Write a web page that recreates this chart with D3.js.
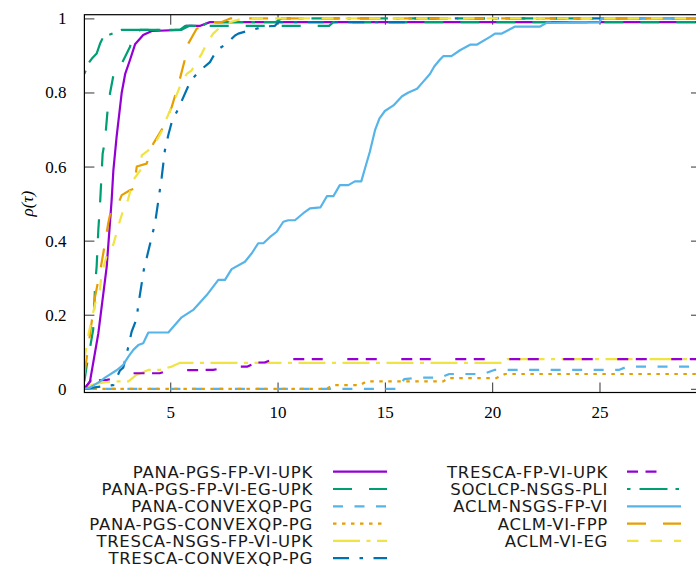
<!DOCTYPE html>
<html>
<head>
<meta charset="utf-8">
<script src="https://cdn.jsdelivr.net/npm/d3@7"></script>
<style>
  html, body { margin: 0; padding: 0; background: #fff; }
  svg { display: block; }
</style>
</head>
<body>
<svg id="chart" width="696" height="569"></svg>
<script>
// ---------------- DATA (tau, rho) ----------------
const seriesNames = [
  "PANA-PGS-FP-VI-UPK", "PANA-PGS-FP-VI-EG-UPK", "PANA-CONVEXQP-PG",
  "PANA-PGS-CONVEXQP-PG", "TRESCA-NSGS-FP-VI-UPK", "TRESCA-CONVEXQP-PG",
  "TRESCA-FP-VI-UPK", "SOCLCP-NSGS-PLI", "ACLM-NSGS-FP-VI",
  "ACLM-VI-FPP", "ACLM-VI-EG"
];
const xTicks = [5, 10, 15, 20, 25];
const yTicks = [0, 0.2, 0.4, 0.6, 0.8, 1];
const tauMax = 29.73;

const panaPgsFpViUpk = [[1,0],[1.26,0.02],[1.65,0.15],[2.04,0.33],[2.27,0.51],[2.35,0.59],[2.5,0.68],[2.74,0.8],[2.9,0.85],[3.12,0.887],[3.36,0.93],[3.74,0.955],[4.14,0.966],[5.5,0.969],[5.75,0.98],[6.4,0.98],[6.85,0.99],[29.73,0.99]];
const panaPgsFpViEgUpk = [[1,0.02],[1.1,0.06],[1.26,0.11],[1.41,0.16],[1.5,0.28],[1.57,0.33],[1.65,0.43],[1.73,0.5],[1.85,0.635],[1.96,0.67],[2.07,0.745],[2.2,0.8],[2.35,0.846],[2.74,0.878],[3.12,0.923],[3.3,0.955],[3.6,0.969],[5.5,0.969],[5.9,0.98],[12.4,0.98],[12.6,0.99],[29.73,0.99]];
const panaConvexqpPg = [[1,0],[15.6,0],[15.9,0.026],[16.5,0.03],[17.6,0.03],[18.0,0.04],[19.6,0.04],[20.1,0.051],[25.9,0.051],[26.3,0.06],[29.73,0.06]];
const panaPgsConvexqpPg = [[1,0],[12.3,0],[12.55,0.01],[13.85,0.01],[14.15,0.02],[17.72,0.02],[17.96,0.029],[20.2,0.029],[20.6,0.04],[29.73,0.04]];
const trescaNsgsFpViUpk = [[1,0],[1.2,0.008],[1.5,0.013],[2.0,0.018],[2.58,0.02],[3.05,0.02],[3.44,0.038],[3.98,0.051],[4.52,0.051],[5.07,0.06],[5.46,0.07],[20.4,0.07],[20.7,0.08],[29.73,0.08]];
const trescaConvexqpPg = [[1,0],[1.4,0.003],[2.0,0.008],[2.35,0.01],[2.66,0.05],[2.81,0.057],[3.05,0.114],[3.2,0.154],[3.44,0.19],[3.5,0.222],[3.82,0.34],[3.9,0.353],[4.14,0.41],[4.3,0.45],[4.5,0.53],[4.6,0.57],[4.75,0.644],[4.91,0.685],[5.07,0.72],[5.38,0.757],[5.92,0.828],[6.3,0.855],[6.77,0.878],[6.85,0.882],[7.16,0.914],[7.63,0.932],[8.02,0.954],[8.17,0.959],[8.72,0.968],[9.42,0.978],[9.88,0.98],[10.04,0.99],[16,0.99],[16.3,1],[29.73,1]];
const trescaFpViUpk = [[1,0],[1.3,0.022],[2.04,0.024],[2.5,0.03],[3.2,0.042],[4.5,0.042],[5.0,0.05],[7.0,0.051],[7.8,0.06],[8.6,0.06],[9.0,0.071],[9.4,0.071],[9.8,0.08],[29.73,0.08]];
const soclcpNsgsPli = [[1,0.85],[1.18,0.878],[1.34,0.891],[1.57,0.905],[1.73,0.932],[1.88,0.95],[2.35,0.96],[2.74,0.969],[5.45,0.969],[5.7,0.98],[6.5,0.98],[6.77,0.99],[9.9,0.99],[10.2,1],[29.73,1]];
const aclmNsgsFpVi = [[1,0],[1.26,0.003],[1.73,0.02],[1.96,0.03],[2.5,0.05],[2.81,0.065],[3.05,0.087],[3.28,0.105],[3.51,0.118],[3.74,0.123],[3.98,0.152],[4.91,0.152],[5.53,0.193],[6.07,0.213],[6.7,0.253],[7.24,0.294],[7.55,0.294],[7.86,0.323],[8.48,0.343],[8.8,0.366],[9.1,0.393],[9.34,0.393],[9.65,0.41],[9.96,0.424],[10.27,0.451],[10.5,0.455],[10.81,0.455],[11.2,0.474],[11.51,0.487],[12.0,0.49],[12.3,0.52],[12.6,0.52],[12.9,0.55],[13.3,0.55],[13.6,0.56],[13.9,0.56],[14.1,0.6],[14.3,0.64],[14.55,0.7],[14.75,0.73],[15.0,0.75],[15.4,0.765],[15.8,0.79],[16.1,0.8],[16.5,0.81],[16.8,0.83],[17.1,0.85],[17.3,0.87],[17.57,0.889],[17.72,0.898],[18.1,0.898],[18.5,0.914],[18.97,0.929],[19.28,0.929],[19.9,0.95],[20.13,0.959],[20.45,0.959],[21.07,0.978],[22.23,0.978],[22.54,0.988],[25.0,0.99],[25.1,1],[29.73,1]];
const aclmViFpp = [[1,0.04],[1.2,0.12],[1.5,0.25],[1.73,0.316],[1.88,0.366],[2.11,0.447],[2.27,0.491],[2.58,0.5],[2.74,0.523],[3.12,0.536],[3.3,0.54],[3.44,0.6],[3.9,0.608],[4.21,0.662],[4.68,0.707],[5.07,0.761],[5.3,0.806],[5.45,0.837],[5.69,0.891],[5.84,0.932],[6.23,0.972],[6.6,0.98],[6.85,0.99],[7.4,0.99],[7.8,1],[29.73,1]];
const aclmViEg = [[1,0.08],[1.2,0.15],[1.5,0.23],[1.73,0.27],[1.8,0.31],[2.04,0.36],[2.35,0.39],[2.66,0.455],[2.8,0.48],[3.03,0.51],[3.27,0.563],[3.6,0.59],[3.67,0.63],[3.98,0.644],[4.37,0.671],[4.68,0.703],[4.83,0.73],[5.14,0.77],[5.53,0.828],[5.77,0.85],[6.0,0.86],[6.23,0.882],[6.47,0.905],[6.7,0.932],[7.0,0.959],[7.4,0.98],[7.8,0.99],[8.4,1],[29.73,1]];

const seriesData = [panaPgsFpViUpk, panaPgsFpViEgUpk, panaConvexqpPg, panaPgsConvexqpPg,
  trescaNsgsFpViUpk, trescaConvexqpPg, trescaFpViUpk, soclcpNsgsPli, aclmNsgsFpVi, aclmViFpp, aclmViEg];

// ---------------- STYLES ----------------
const colors = ["#9400d3","#009e73","#56b4e9","#e69f00","#f0e442","#0072b2","#9400d3","#009e73","#56b4e9","#e69f00","#f0e442"];
const dashes = [null, "19,17", "10,11.5", "3.5,5.5", "27,6.5,4,6.5", "16,10.5,3.5,10.5", "11,7.5,11,24.5", "3.5,9,28,8", null, "19,17", "11.5,12"];

// ---------------- LAYOUT ----------------
const L = 84.4, R = 701, T = 14.7, B = 392.5;
const svg = d3.select("#chart");
const x = d3.scaleLinear().domain([1, tauMax]).range([L, R]);
const y = d3.scaleLinear().domain([-0.01, 1.01]).range([B, T]);

svg.append("defs").append("clipPath").attr("id","clip")
  .append("rect").attr("x", L).attr("y", T).attr("width", R - L).attr("height", B - T);

const serif = "'Liberation Serif', 'DejaVu Serif', serif";
const sans = "'DejaVu Sans', sans-serif";

// axes
const tickCol = "#333";
const gx = svg.append("g").attr("transform", `translate(0,${B})`)
  .call(d3.axisBottom(x).tickValues(xTicks).tickSizeInner(-10).tickSizeOuter(0).tickPadding(13));
const gy = svg.append("g").attr("transform", `translate(${L},0)`)
  .call(d3.axisLeft(y).tickValues(yTicks).tickSizeInner(-10).tickSizeOuter(0).tickPadding(18)
    .tickFormat(d => String(d)));
const gt = svg.append("g").attr("transform", `translate(0,${T})`)
  .call(d3.axisTop(x).tickValues(xTicks).tickSizeInner(-10).tickSizeOuter(0).tickFormat(""));
const gr = svg.append("g").attr("transform", `translate(${R},0)`)
  .call(d3.axisRight(y).tickValues(yTicks).tickSizeInner(-10).tickSizeOuter(0).tickFormat(""));
[gx, gy, gt, gr].forEach(g => {
  g.select(".domain").remove();
  g.selectAll(".tick line").attr("stroke", tickCol).attr("stroke-width", 1);
  g.selectAll(".tick text").attr("font-family", serif).attr("font-size", 17).attr("fill", "#000");
});

// lines
const line = d3.line().x(d => x(d[0])).y(d => y(d[1]));
const plot = svg.append("g").attr("clip-path", "url(#clip)");
seriesData.forEach((data, i) => {
  plot.append("path").datum(data)
    .attr("d", line)
    .attr("fill", "none")
    .attr("stroke", colors[i])
    .attr("stroke-width", 2.2)
    .attr("stroke-linejoin", "round")
    .attr("stroke-dasharray", dashes[i]);
});

// frame
svg.append("rect").attr("x", L).attr("y", T).attr("width", R - L).attr("height", B - T)
  .attr("fill", "none").attr("stroke", "#000").attr("stroke-width", 1.2);

// y label
svg.append("text")
  .attr("transform", `translate(33,${(T + B) / 2}) rotate(-90)`)
  .attr("text-anchor", "middle")
  .attr("font-family", serif).attr("font-size", 17).attr("font-style", "italic")
  .text("ρ(τ)");

// legend
const rowY0 = 471.7, rowStep = 17.3;
seriesNames.forEach((name, i) => {
  const col = i < 6 ? 0 : 1;
  const row = i < 6 ? i : i - 6;
  const textX = col === 0 ? 313 : 608;
  const sx0 = col === 0 ? 333 : 627;
  const sx1 = sx0 + 54;
  const yy = rowY0 + row * rowStep;
  svg.append("text")
    .attr("x", textX).attr("y", yy).attr("dy", "0.36em")
    .attr("text-anchor", "end")
    .attr("font-family", sans).attr("font-size", 16.5).attr("letter-spacing", 0.7)
    .attr("fill", "#1a1a1a")
    .text(name);
  svg.append("line")
    .attr("x1", sx0).attr("x2", sx1).attr("y1", yy).attr("y2", yy)
    .attr("stroke", colors[i]).attr("stroke-width", 2.2)
    .attr("stroke-dasharray", dashes[i]);
});
</script>
</body>
</html>
